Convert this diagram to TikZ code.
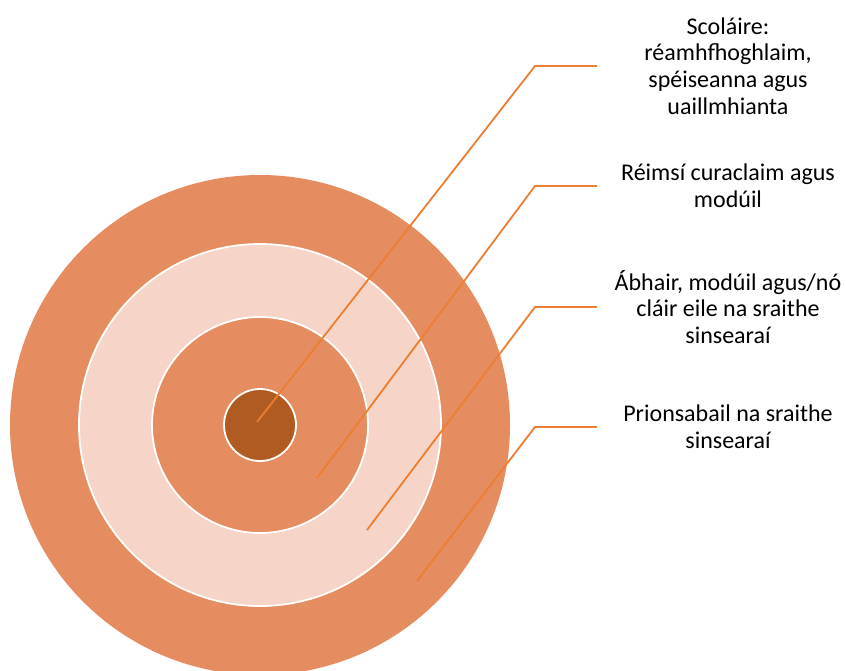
\documentclass[tikz,border=0pt]{standalone}
\usepackage{fontspec}
\setmainfont{Carlito}
\definecolor{ringdark}{RGB}{229,140,96}
\definecolor{ringpale}{RGB}{246,212,200}
\definecolor{core}{RGB}{175,91,34}
\definecolor{leader}{RGB}{237,125,49}
\begin{document}
\begin{tikzpicture}[x=1pt,y=-1pt,
  ring/.style={circle,draw=white,line width=1.8pt,minimum size=#1,inner sep=0pt},
  lbl/.style={align=center,minimum width=262pt,inner sep=0pt,font=\fontsize{24}{26.7}\selectfont},
  leadline/.style={draw=leader,line width=1.8pt}]
\useasboundingbox (0,0) rectangle (846,670);
\begin{scope}
\clip (0,0) rectangle (846,670);
\node[ring=500pt,fill=ringdark,draw=none] (c4) at (260,425) {};
\node[ring=362pt,fill=ringpale] (c3) at (260,425) {};
\node[ring=216pt,fill=ringdark] (c2) at (260,425) {};
\node[ring=72pt,fill=core] (c1) at (260,425) {};
\end{scope}
\node[lbl] (l1) at (728,66) {Scoláire:\\réamhfhoghlaim,\\spéiseanna agus\\uaillmhianta};
\node[lbl] (l2) at (728,186) {Réimsí curaclaim agus\\modúil};
\node[lbl] (l3) at (728,307) {Ábhair, modúil agus/nó\\cláir eile na sraithe\\sinsearaí};
\node[lbl] (l4) at (728,427) {Prionsabail na sraithe\\sinsearaí};
\coordinate (p1) at (257,422);
\coordinate (p2) at (317,478);
\coordinate (p3) at (367,530);
\coordinate (p4) at (417,581);
\coordinate (e1) at (535,66);
\coordinate (e2) at (535,186);
\coordinate (e3) at (535,307);
\coordinate (e4) at (535,427);
\draw[leadline] (p1) -- (e1) -- (l1.west);
\draw[leadline] (p2) -- (e2) -- (l2.west);
\draw[leadline] (p3) -- (e3) -- (l3.west);
\draw[leadline] (p4) -- (e4) -- (l4.west);
\end{tikzpicture}
\end{document}
